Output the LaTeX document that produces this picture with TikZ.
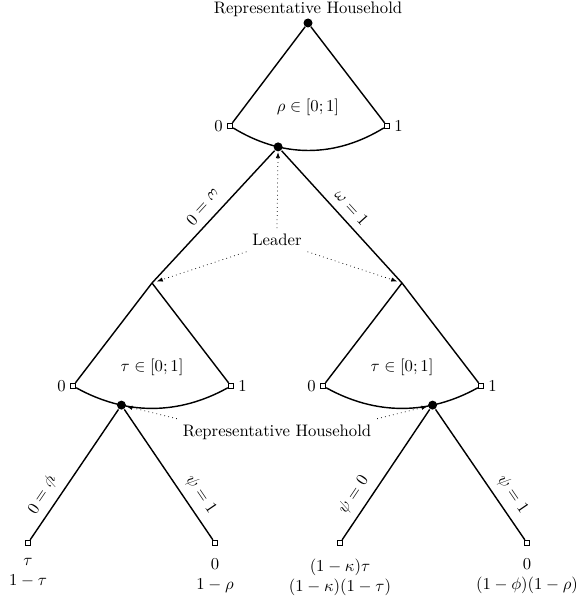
\documentclass[tikz,border=0pt]{standalone}
\usepackage{amsmath,amssymb}
\usetikzlibrary{positioning,arrows.meta}
\tikzset{
  hhdot/.style={circle,fill=black,inner sep=0pt,minimum size=5.4pt},
  endbox/.style={draw,fill=white,inner sep=0pt,minimum size=3.2pt,line width=0.6pt},
  branch/.style={line width=0.85pt},
  actlab/.style={sloped,inner sep=4.5pt},
  pointer/.style={dotted,line width=0.45pt,-{Latex[length=3.6pt,width=2.6pt]}},
}
\begin{document}
\begin{tikzpicture}[x=0.6pt,y=-0.6pt]
\useasboundingbox (0,0) rectangle (576,599);
% household stage (rho)
\node[hhdot] (root) at (308,23) {};
\node[above=-2.4pt of root] (hhtop) {Representative Household};
\node[endbox] (rho0) at (230,126) {};
\node[endbox] (rho1) at (387,126) {};
\draw[branch] (root) -- (rho0);
\draw[branch] (root) -- (rho1);
\draw[branch] (rho0) .. controls (282.3,158) and (334.7,158) .. (rho1) node[hhdot,pos=0.3] (ldr) {};
\node[left=-1pt of rho0] {$0$};
\node[right=-1pt of rho1] {$1$};
\node (rholab) at (308,107) {$\rho\in[0;1]$};
% leader stage (omega)
\coordinate (mL) at (152,283);
\coordinate (mR) at (402,283);
\draw[branch] (ldr) -- node[midway,actlab,allow upside down,below] {$\omega=0$} (mL);
\draw[branch] (ldr) -- node[midway,actlab,above] {$\omega=1$} (mR);
\node (ldrlab) at (277,240) {Leader};
\draw[pointer] (ldrlab.north) -- (ldr);
\draw[pointer,shorten >=3pt] (ldrlab.south west) -- (mL);
\draw[pointer,shorten >=3pt] (ldrlab.south east) -- (mR);
% household stage (tau), left
\node[endbox] (tauL0) at (73,386) {};
\node[endbox] (tauL1) at (231,386) {};
\draw[branch] (mL) -- (tauL0);
\draw[branch] (mL) -- (tauL1);
\draw[branch] (tauL0) .. controls (125.7,415.3) and (178.3,415.3) .. (tauL1) node[hhdot,pos=0.3] (hhL) {};
\node[left=-1pt of tauL0] {$0$};
\node[right=-1pt of tauL1] {$1$};
\node (tauLlab) at (152,367) {$\tau\in[0;1]$};
% household stage (tau), right
\node[endbox] (tauR0) at (323,386) {};
\node[endbox] (tauR1) at (481,386) {};
\draw[branch] (mR) -- (tauR0);
\draw[branch] (mR) -- (tauR1);
\draw[branch] (tauR0) .. controls (375.7,415.3) and (428.3,415.3) .. (tauR1) node[hhdot,pos=0.7] (hhR) {};
\node[left=-1pt of tauR0] {$0$};
\node[right=-1pt of tauR1] {$1$};
\node (tauRlab) at (402,367) {$\tau\in[0;1]$};
\node (hhlow) at (277,432) {Representative Household};
\draw[pointer] (hhlow.north west) -- (hhL);
\draw[pointer] (hhlow.north east) -- (hhR);
% psi stage and payoffs
\node[endbox] (pay1) at (28,543) {};
\node[endbox] (pay2) at (215,543) {};
\node[endbox] (pay3) at (340,543) {};
\node[endbox] (pay4) at (527,543) {};
\draw[branch] (hhL) -- node[pos=0.72,actlab,allow upside down,below] {$\psi=0$} (pay1);
\draw[branch] (hhL) -- node[pos=0.72,actlab,above] {$\psi=1$} (pay2);
\draw[branch] (hhR) -- node[pos=0.72,actlab,above] {$\psi=0$} (pay3);
\draw[branch] (hhR) -- node[pos=0.72,actlab,above] {$\psi=1$} (pay4);
\node[below=4pt of pay1,align=center] {$\tau$\\$1-\tau$};
\node[below=4pt of pay2,align=center] {$0$\\$1-\rho$};
\node[below=4pt of pay3,align=center] {$(1-\kappa)\tau$\\$(1-\kappa)(1-\tau)$};
\node[below=4pt of pay4,align=center] {$0$\\$(1-\phi)(1-\rho)$};
\end{tikzpicture}
\end{document}
